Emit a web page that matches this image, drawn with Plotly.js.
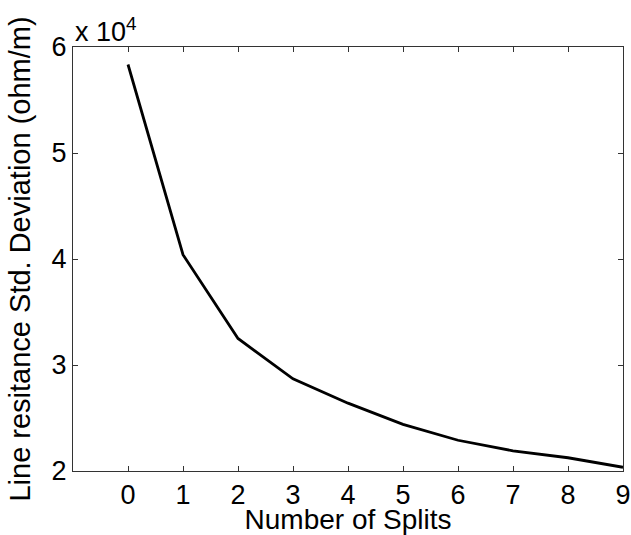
<!DOCTYPE html>
<html>
<head>
<meta charset="utf-8">
<script src="https://cdn.plot.ly/plotly-3.0.1.min.js"></script>
<style>html,body{margin:0;padding:0;background:#fff;}#chart{width:631px;height:535px;}</style>
</head>
<body>
<div id="chart"></div>
<script>
const splits = [0, 1, 2, 3, 4, 5, 6, 7, 8, 9];
const stdDev = [58350, 40400, 32500, 28700, 26400, 24400, 22900, 21900, 21250, 20350];
const xTicks = [0, 1, 2, 3, 4, 5, 6, 7, 8, 9];
const yTickVals = [20000, 30000, 40000, 50000, 60000];
const yTickText = ['2', '3', '4', '5', '6'];

const font = 'Liberation Sans, Arial, sans-serif';
const axisCommon = {
  showgrid: false, zeroline: false, showline: true, linecolor: '#333', linewidth: 1,
  mirror: 'ticks', ticks: 'inside', ticklen: 5, tickcolor: '#333', tickwidth: 1,
  tickfont: {family: font, size: 27, color: '#000'}
};
Plotly.newPlot('chart', [{
  x: splits, y: stdDev, type: 'scatter', mode: 'lines',
  line: {color: '#000', width: 2.8}
}], {
  width: 631, height: 535,
  paper_bgcolor: '#fff', plot_bgcolor: '#fff',
  margin: {l: 73, r: 8, t: 47, b: 64},
  showlegend: false,
  xaxis: Object.assign({}, axisCommon, {
    range: [-1, 9], tickvals: xTicks, ticktext: xTicks.map(String),
    title: {text: 'Number of Splits', font: {family: font, size: 28, color: '#000'}, standoff: 2}
  }),
  yaxis: Object.assign({}, axisCommon, {
    range: [20000, 60000], tickvals: yTickVals, ticktext: yTickText,
    title: {text: 'Line resitance Std. Deviation (ohm/m)', font: {family: font, size: 29, color: '#000'}, standoff: 12}
  }),
  annotations: [{
    xref: 'paper', yref: 'paper', x: 0, y: 1, xanchor: 'left', yanchor: 'bottom',
    yshift: -2, text: 'x 10<sup>4</sup>', showarrow: false,
    font: {family: font, size: 27, color: '#000'}
  }]
}, {displayModeBar: false, staticPlot: true});
</script>
</body>
</html>
